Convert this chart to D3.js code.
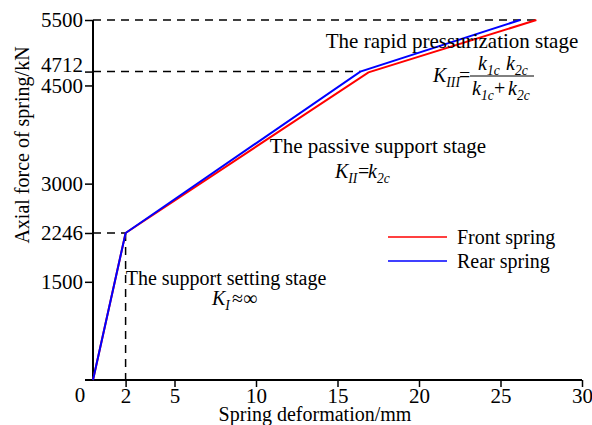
<!DOCTYPE html>
<html>
<head>
<meta charset="utf-8">
<script src="https://cdn.jsdelivr.net/npm/d3@7"></script>
<style>
  body { margin: 0; background: #fff; }
  svg text { font-family: "Liberation Serif", "Times New Roman", serif; fill: #000; }
</style>
</head>
<body>
<svg id="chart" width="592" height="425"></svg>
<script>
// chart values
const xTicks = [2, 5, 10, 15, 20, 25, 30];
const yTicks = [1500, 2246, 3000, 4500, 4712, 5500];
const frontDef = [0, 2, 16.9, 27.2];
const frontForce = [0, 2246, 4700, 5500];
const rearDef = [0, 2, 16.4, 26.2];
const rearForce = [0, 2246, 4712, 5500];
const seriesNames = ["Front spring", "Rear spring"];
const seriesColors = ["#ff0000", "#0000ff"];

const svg = d3.select('#chart');
const x = d3.scaleLinear().domain([0, 30]).range([93, 582]);
const y = d3.scaleLinear().domain([0, 5500]).range([380, 20]);
const fs = 20;
const tickFs = 21;

const front = frontDef.map((d, i) => ({ x: d, y: frontForce[i] }));
const rear = rearDef.map((d, i) => ({ x: d, y: rearForce[i] }));

// dashed guide lines
const guides = [
  { x1: 0, y1: 5500, x2: 27.2, y2: 5500 },
  { x1: 0, y1: 4712, x2: 16.4, y2: 4712 },
  { x1: 0, y1: 2246, x2: 2, y2: 2246 },
  { x1: 2, y1: 2246, x2: 2, y2: 0 }
];
svg.append("g").selectAll("line")
  .data(guides)
  .enter()
  .append("line")
  .attr("x1", d => x(d.x1))
  .attr("y1", d => y(d.y1))
  .attr("x2", d => x(d.x2))
  .attr("y2", d => y(d.y2))
  .attr("stroke", "#000")
  .attr("stroke-width", 1.5)
  .attr("stroke-dasharray", "8,6");

// axes
const xAxis = svg.append("g")
  .attr("transform", "translate(0," + y(0) + ")")
  .call(d3.axisBottom(x).tickValues(xTicks).tickFormat(d3.format("d")).tickSize(7).tickSizeOuter(0));
xAxis.select(".domain").remove();
xAxis.append("line")
  .attr("x1", 85).attr("x2", x(30))
  .attr("stroke", "#000").attr("stroke-width", 2);
xAxis.selectAll(".tick line").attr("stroke", "#000").attr("stroke-width", 1.5);
xAxis.selectAll(".tick text")
  .attr("y", 8)
  .attr("dy", "0.7em")
  .style("font-family", "Liberation Serif")
  .style("font-size", tickFs + "px")
  .attr("fill", "#000");

const yAxis = svg.append("g")
  .attr("transform", "translate(" + x(0) + ",0)")
  .call(d3.axisLeft(y).tickValues(yTicks).tickFormat(d3.format("d")).tickSize(8).tickSizeOuter(0));
yAxis.select(".domain").remove();
yAxis.append("line")
  .attr("y1", y(5500)).attr("y2", y(0))
  .attr("stroke", "#000").attr("stroke-width", 2);
yAxis.selectAll(".tick line").attr("stroke", "#000").attr("stroke-width", 1.5);
yAxis.selectAll(".tick text")
  .attr("x", -10)
  .attr("dy", d => d == 4712 ? "0em" : "0.33em")
  .style("font-family", "Liberation Serif")
  .style("font-size", tickFs + "px")
  .attr("fill", "#000");

svg.append("text")
  .attr("x", x(0) - 13)
  .attr("y", 402)
  .attr("text-anchor", "middle")
  .style("font-size", tickFs + "px")
  .text("0");

// axis titles
svg.append("text")
  .attr("transform", "translate(29,145) rotate(-90)")
  .attr("text-anchor", "middle")
  .style("font-size", fs + "px")
  .text("Axial force of spring/kN");

svg.append("text")
  .attr("x", 315)
  .attr("y", 421)
  .attr("text-anchor", "middle")
  .style("font-size", fs + "px")
  .text("Spring deformation/mm");

// series lines
const line = d3.line().x(d => x(d.x)).y(d => y(d.y));
svg.append("path")
  .datum(front)
  .attr("d", line)
  .attr("fill", "none")
  .attr("stroke", seriesColors[0])
  .attr("stroke-width", 2);
svg.append("path")
  .datum(rear)
  .attr("d", line)
  .attr("fill", "none")
  .attr("stroke", seriesColors[1])
  .attr("stroke-width", 2);

// legend
const legend = svg.append("g").selectAll("g")
  .data(seriesNames)
  .enter()
  .append("g")
  .attr("transform", (d, i) => "translate(388," + (237 + i * 24) + ")");
legend.append("line")
  .attr("x1", 0).attr("x2", 59)
  .attr("stroke", (d, i) => seriesColors[i])
  .attr("stroke-width", 1.5);
legend.append("text")
  .attr("x", 69)
  .attr("y", 7)
  .style("font-size", fs + "px")
  .text(d => d);

// stage annotations
const stages = [
  { text: "The rapid pressurization stage", x: 452, y: 48, size: 21 },
  { text: "The passive support stage", x: 378, y: 153, size: 21 },
  { text: "The support setting stage", x: 226, y: 285, size: 20 }
];
svg.append("g").selectAll("text")
  .data(stages)
  .enter()
  .append("text")
  .attr("x", d => d.x)
  .attr("y", d => d.y)
  .attr("text-anchor", "middle")
  .style("font-size", d => d.size + "px")
  .text(d => d.text);

// helper for italic symbol with subscript
function symbol(g, px, py, main, sub, size) {
  const t = g.append("text")
    .attr("x", px)
    .attr("y", py)
    .style("font-size", size + "px")
    .style("font-style", "italic");
  t.append("tspan").text(main);
  t.append("tspan")
    .attr("dy", 5)
    .style("font-size", (size * 0.68) + "px")
    .text(sub);
  return t;
}

const ann = svg.append("g");
// K_I ~ infinity
symbol(ann, 212, 305, "K", "I", fs);
ann.append("text").attr("x", 232).attr("y", 305)
  .style("font-size", fs + "px").text("\u2248\u221e");

// K_II = k_2c
symbol(ann, 335, 178, "K", "II", fs);
ann.append("text").attr("x", 358).attr("y", 178)
  .style("font-size", fs + "px").text("=");
symbol(ann, 368, 178, "k", "2c", fs);

// K_III = k1c k2c / (k1c + k2c)
symbol(ann, 433, 82, "K", "III", fs);
ann.append("text").attr("x", 459).attr("y", 82)
  .style("font-size", fs + "px").text("=");
symbol(ann, 478, 70, "k", "1c", fs);
symbol(ann, 506, 70, "k", "2c", fs);
ann.append("line")
  .attr("x1", 470).attr("x2", 534)
  .attr("y1", 76).attr("y2", 76)
  .attr("stroke", "#000").attr("stroke-width", 1);
symbol(ann, 472, 95, "k", "1c", fs);
ann.append("text").attr("x", 494).attr("y", 95)
  .style("font-size", fs + "px").text("+");
symbol(ann, 508, 95, "k", "2c", fs);
</script>
</body>
</html>
